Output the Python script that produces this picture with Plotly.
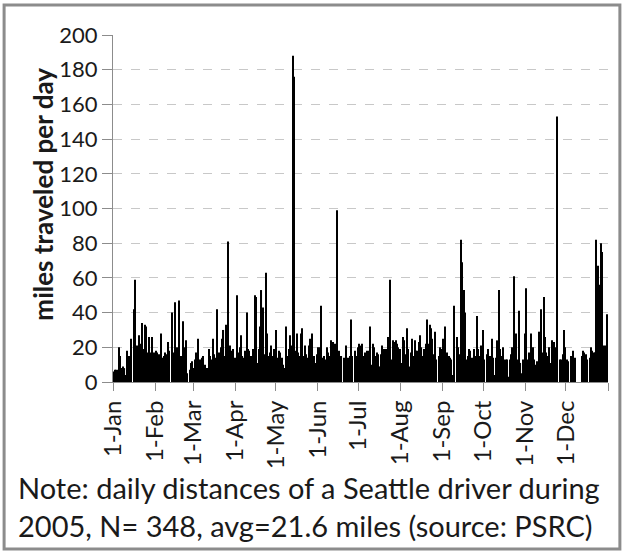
import plotly.graph_objects as go
import pandas as pd

# daily miles for 2005, one list per month (None = no record that day)
jan = [6, 7, 7, 7, 20, 15, 8, 9, 8, 4, 18, 15, 15, 25, None, 42, 59, 21, 20, 27,
       22, 34, 19, 33, 32, 17, 26, 17, 26, None, 17]
feb = [18, 17, 16, 16, 28, 14, 15, 17, 16, 23, 18, None, 40, 17, 46, 15, 20, 47, 9, 15,
       35, 20, 24, 5, None, 7, 11, 12]
mar = [8, 13, 17, 25, None, 13, 14, 15, 10, 7, 8, 19, 15, 13, 25, 16, 14, 42, 13, 17,
       20, 25, 30, 15, 33, 81, None, 21, 18, 19, 14]
apr = [14, 50, 17, 20, 27, 15, 14, 18, 40, 19, 18, 15, 15, 19, 50, 49, 11, 19, 32, 53,
       43, 16, 63, 28, 15, 17, 21, 15, 19, 12]
may = [30, 14, 18, 17, 14, 10, 8, 32, 15, 19, 27, 21, 188, 176, 18, 28, 17, 15, 28, 31,
       15, 21, 16, 14, 21, 25, 28, 13, 15, 11, 16]
jun = [20, 20, 44, 14, 15, 13, 20, 17, 15, 24, 19, 23, 22, 18, 99, 18, 14, 15, None, 14,
       21, 13, 14, 15, 36, 15, None, 18, 15, 20]
jul = [22, 21, 22, 15, 17, 16, 18, 18, 32, 10, 22, 20, 15, 17, 16, 9, 16, 21, 19, 16,
       19, 26, 25, 59, 13, 24, 23, 24, 22, 20, 19]
aug = [11, 26, 24, 16, 31, 19, 9, 17, 25, 15, 24, 18, 18, 23, 27, 20, 15, 19, 22, 36,
       22, 33, 31, 25, 16, 29, 13, None, 15, 20, 19]
sep = [25, 32, 16, 17, 15, 14, 13, 4, 44, None, 26, 20, 16, 82, 69, 53, 40, 13, 15, 19,
       18, 14, 12, 19, 15, 38, 19, 15, 21, 30]
oct_ = [13, None, 16, 19, 15, 15, 25, 14, 4, 14, 24, 53, 19, 15, 20, 13, 13, 13, 3, 13,
        16, 20, 61, 16, 28, 13, 41, 11, 5, 13, 28]
nov = [54, 13, 17, 14, 28, 20, 13, 10, 12, None, 29, 42, 17, 49, 26, 17, 15, 20, 11, 24,
       22, 23, 20, 153, None, 13, 13, 16, 30, 20]
dec = [13, 12, None, 15, 14, 18, 14, None, None, None, None, 15, 18, 17, 16, 13, None, 14, 20, 18,
       17, 17, 82, 67, 56, 80, 75, 21, 21, 20, 39]

miles = jan + feb + mar + apr + may + jun + jul + aug + sep + oct_ + nov + dec
days = pd.date_range('2005-01-01', periods=len(miles), freq='D') + pd.Timedelta(hours=12)

month_ticks = pd.date_range('2005-01-01', periods=13, freq='MS')
month_labels = ['1-Jan', '1-Feb', '1-Mar', '1-Apr', '1-May', '1-Jun', '1-Jul',
                '1-Aug', '1-Sep', '1-Oct', '1-Nov', '1-Dec', '']

font = 'Lato, "Open Sans", sans-serif'

fig = go.Figure(go.Bar(x=days, y=miles, marker=dict(color='black', line_width=0)))

fig.update_layout(
    width=625, height=555,
    margin=dict(l=113, r=17, t=35, b=173),
    paper_bgcolor='white', plot_bgcolor='white',
    bargap=0.2, showlegend=False,
    font=dict(family=font, size=22, color='#1a1a1a'),
    xaxis=dict(
        type='date', range=['2005-01-01', '2006-01-01'],
        tickmode='array', tickvals=month_ticks, ticktext=month_labels,
        tickangle=-90, ticks='outside', ticklen=8, tickcolor='#8c8c8c',
        showline=True, linecolor='#8c8c8c', linewidth=1, showgrid=False,
        tickfont=dict(size=24)
    ),
    yaxis=dict(
        range=[0, 200], dtick=20, ticks='outside', ticklen=10, tickcolor='#8c8c8c',
        showline=True, linecolor='#8c8c8c', linewidth=1,
        showgrid=True, gridcolor='#c8c8c8', griddash='dash', gridwidth=1,
        zeroline=False, tickfont=dict(size=22)
    ),
    shapes=[dict(type='rect', xref='paper', yref='paper',
                 x0=-0.220, x1=1.024, y0=-0.481, y1=1.0865,
                 line=dict(color='#8c8c8c', width=3))],
    annotations=[
        dict(xref='paper', yref='paper', x=-0.142, y=0.542, textangle=-90,
             xanchor='center', yanchor='middle', showarrow=False, font=dict(size=26),
             text='<b>miles traveled per day</b>'),
        dict(xref='paper', yref='paper', x=-0.196, y=-0.247, xanchor='left', yanchor='top',
             align='left', showarrow=False, font=dict(size=29),
             text='Note: daily distances of a Seattle driver during<br>'
                  '2005, N= 348, avg=21.6 miles (source: PSRC)')]
)

fig.write_html("out.html", config={'displayModeBar': False},
               post_script="document.body.style.margin='0';")
